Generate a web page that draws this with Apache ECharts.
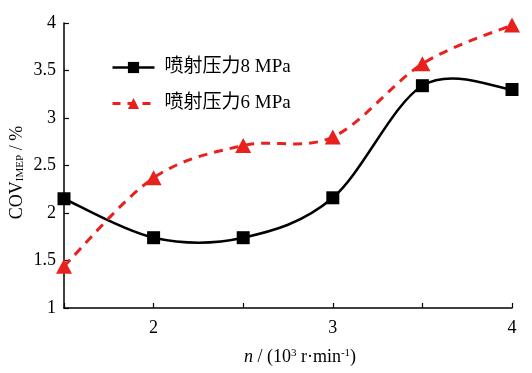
<!DOCTYPE html>
<html><head><meta charset="utf-8">
<script src="https://cdn.jsdelivr.net/npm/echarts@6/dist/echarts.min.js"></script>
<style>html,body{margin:0;padding:0;background:#fff}#c{width:532px;height:373px}</style>
</head><body><div id="c"></div>
<script>
var speeds = [1.5, 2, 2.5, 3, 3.5, 4];
var cov8MPa = [2.15, 1.74, 1.74, 2.16, 3.34, 3.30];
var cov6MPa = [1.44, 2.37, 2.71, 2.80, 3.57, 3.98];
var xTickLabels = {2: '2', 3: '3', 4: '4'};
var seriesNames = ['喷射压力8 MPa', '喷射压力6 MPa'];

var serif = '"Liberation Serif","Noto Sans CJK SC",serif';
var BLACK = '#000', RED = '#e8211f';
var chart = echarts.init(document.getElementById('c'));
function pairs(xs, ys){ return xs.map(function(x,i){return [x, ys[i]];}); }

// Catmull-Rom style smooth curve through the data points (pixel space via api.coord)
function splineSeries(xs, ys, lineStyle){
  return {
    type: 'custom', z: 1, silent: true, data: pairs(xs, ys),
    renderItem: function(params, api){
      if (params.dataIndex !== 0) return null;
      var p = xs.map(function(x,i){ return api.coord([x, ys[i]]); });
      var n = p.length, d = 'M' + p[0][0] + ' ' + p[0][1];
      function tan(i){
        var a = p[Math.max(i-1,0)], b = p[Math.min(i+1,n-1)];
        return [(b[0]-a[0])/2, (b[1]-a[1])/2];
      }
      for (var i = 0; i < n-1; i++){
        var t0 = tan(i), t1 = tan(i+1);
        d += ' C' + (p[i][0]+t0[0]/3) + ' ' + (p[i][1]+t0[1]/3) + ' ' +
             (p[i+1][0]-t1[0]/3) + ' ' + (p[i+1][1]-t1[1]/3) + ' ' +
             p[i+1][0] + ' ' + p[i+1][1];
      }
      return {type: 'path', shape: {pathData: d},
        style: {fill: null, stroke: lineStyle.color, lineWidth: lineStyle.width,
                lineDash: lineStyle.dash || null}};
    }
  };
}

chart.setOption({
  animation: false,
  textStyle: {fontFamily: serif, color: '#000'},
  grid: {left: 64, right: 20, top: 23, bottom: 65, outerBoundsMode: 'none', containLabel: false},
  legend: {
    orient: 'vertical', left: 106, top: 53, itemWidth: 42, itemHeight: 14, itemGap: 17,
    textStyle: {fontFamily: serif, fontSize: 19, color: '#000', padding: [0,0,0,5]},
    data: [
      {name: seriesNames[0], lineStyle: {color: BLACK, width: 2.5, opacity: 1, type: 'solid'}},
      {name: seriesNames[1], lineStyle: {color: RED, width: 3, opacity: 1, type: [8, 7]}}
    ]
  },
  xAxis: {
    type: 'value', min: 1.5, max: 4, interval: 0.5,
    axisLine: {lineStyle: {color: '#000', width: 1.5}},
    axisTick: {inside: true, length: 5, lineStyle: {color: '#000', width: 1.2}},
    splitLine: {show: false},
    axisLabel: {fontSize: 18, color: '#000', margin: 11, fontFamily: serif,
      formatter: function(v){ return xTickLabels[v] || ''; }},
    name: '{i|n} / (10{s|3} r·min{s|-1})',
    nameLocation: 'middle', nameGap: 40, nameMoveOverlap: false,
    nameTextStyle: {fontSize: 18, color: '#000', fontFamily: serif, padding: [0,0,0,24],
      rich: {i: {fontStyle: 'italic', fontSize: 18, fontFamily: serif},
             s: {fontSize: 11, verticalAlign: 'top', fontFamily: serif, padding: [0,0,6,0]}}}
  },
  yAxis: {
    type: 'value', min: 1, max: 4, interval: 0.5,
    axisLine: {show: true, lineStyle: {color: '#000', width: 1.5}},
    axisTick: {show: true, inside: true, length: 5, lineStyle: {color: '#000', width: 1.2}},
    splitLine: {show: false},
    axisLabel: {fontSize: 18, color: '#000', margin: 8, fontFamily: serif},
    name: '{a|COV}{b|IMEP}{a| / %}',
    nameLocation: 'middle', nameGap: 38, nameMoveOverlap: false,
    nameTextStyle: {fontSize: 18, color: '#000', fontFamily: serif, padding: [0,14,0,0],
      rich: {a: {fontSize: 18, fontFamily: serif},
             b: {fontSize: 11, fontFamily: serif, verticalAlign: 'bottom', padding: [6,0,0,0]}}}
  },
  series: [
    splineSeries(speeds, cov8MPa, {color: BLACK, width: 2.5}),
    splineSeries(speeds, cov6MPa, {color: RED, width: 3, dash: [9, 7]}),
    {name: seriesNames[0], type: 'line', z: 3, data: pairs(speeds, cov8MPa),
     symbol: 'rect', symbolSize: 13,
     lineStyle: {color: BLACK, width: 2.5, opacity: 0}, itemStyle: {color: BLACK}},
    {name: seriesNames[1], type: 'line', z: 3, data: pairs(speeds, cov6MPa),
     symbol: 'triangle', symbolSize: [16, 15],
     lineStyle: {color: RED, width: 3, opacity: 0, type: [8, 7]}, itemStyle: {color: RED}}
  ]
});
</script></body></html>
